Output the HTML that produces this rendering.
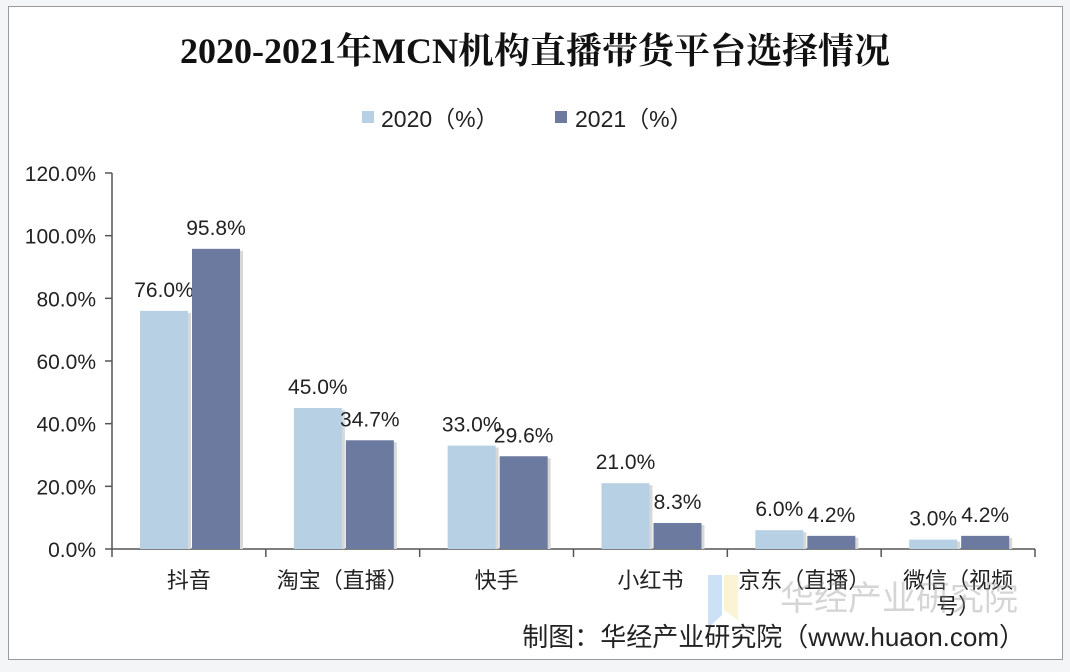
<!DOCTYPE html>
<html><head><meta charset="utf-8">
<style>
body{margin:0;width:1070px;height:672px;background:#f4f5f6;overflow:hidden;font-family:"Liberation Sans","Noto Sans CJK SC",sans-serif;}
#frame{position:absolute;left:8px;top:6px;width:1053px;height:652px;background:#fff;border:1px solid #9a9a9a;}
</style></head>
<body>
<div id="frame"></div>
<svg id="chart" width="1070" height="672" style="position:absolute;left:0;top:0">
<text x="535" y="63" text-anchor="middle" font-family="'Liberation Serif','Noto Serif CJK SC',serif" font-weight="bold" font-size="36" fill="#111">2020-2021年MCN机构直播带货平台选择情况</text>
<g>
<rect x="362" y="111" width="12" height="12" fill="#b7d0e4"/>
<text x="381" y="127" font-size="23" fill="#222">2020（%）</text>
<rect x="555" y="111" width="12" height="12" fill="#6b7a9e"/>
<text x="575" y="127" font-size="23" fill="#222">2021（%）</text>
</g>
<g id="plot"></g>
<g opacity="0.35">
<path d="M708 575 L722 575 L722 615 L708 628 Z" fill="#6fa8e8"/>
<path d="M724 575 L738 575 L738 620 L724 610 Z" fill="#f3e08a"/>
<text x="780" y="610" font-size="34" fill="#888">华经产业研究院</text>
</g>
<text x="1025" y="646" text-anchor="end" font-size="26" fill="#222">制图：华经产业研究院（www.huaon.com）</text>
</svg>
<script>
const categories=["抖音","淘宝（直播）","快手","小红书","京东（直播）","微信（视频号）"];
const values2020=[76.0,45.0,33.0,21.0,6.0,3.0];
const values2021=[95.8,34.7,29.6,8.3,4.2,4.2];
const yTicks=[0,20,40,60,80,100,120];
const NS="http://www.w3.org/2000/svg";
const g=document.getElementById('plot');
const x0=112,x1=1035,y0=549,yTop=173,maxV=120;
const y=v=>y0-(v/maxV)*(y0-yTop);
const cw=(x1-x0)/categories.length;
const cx=i=>x0+i*cw;
function el(t,a){const e=document.createElementNS(NS,t);for(const k in a)e.setAttribute(k,a[k]);g.appendChild(e);return e;}
let ax=el('line',{x1:x0,y1:yTop,x2:x0,y2:y0,stroke:'#555','stroke-width':1.5});


let bx=el('line',{x1:x0,y1:y0,x2:x1,y2:y0,stroke:'#555','stroke-width':1.5});


yTicks.forEach(v=>{
 el('line',{x1:x0-7,y1:y(v),x2:x0,y2:y(v),stroke:'#555','stroke-width':1.5});
 const t=el('text',{x:x0-16,y:y(v)+8,'text-anchor':'end','font-size':21,fill:'#222'});
 t.textContent=v.toFixed(1)+'%';
 
 
});
for(let i=0;i<=categories.length;i++)el('line',{x1:cx(i),y1:y0,x2:cx(i),y2:y0+8,stroke:'#555','stroke-width':1.5});
const bw=48;
categories.forEach((c,i)=>{
 [[values2020,'#b7d0e4',28,'bar-2020'],[values2021,'#6b7a9e',80,'bar-2021']].forEach(([arr,col,off,nm])=>{
  const v=arr[i],bxp=cx(i)+off;
  el('rect',{x:bxp+3,y:y(v)+2,width:bw,height:y0-y(v)-2,fill:'#d8d8d8'});
  const r=el('rect',{x:bxp,y:y(v),width:bw,height:y0-y(v),fill:col});
  
  
  const t=el('text',{x:bxp+bw/2,y:y(v)-14,'text-anchor':'middle','font-size':21,fill:'#222'});
  t.textContent=v.toFixed(1)+'%';
  
  
 });
 const lbl=c==="微信（视频号）"?["微信（视频","号）"]:[c];
 lbl.forEach((s,k)=>{
  const t=el('text',{x:cx(i)+cw/2,y:588+k*26,'text-anchor':'middle','font-size':22,fill:'#222'});
  t.textContent=s;
  
  
 });
});
</script>
</body></html>
